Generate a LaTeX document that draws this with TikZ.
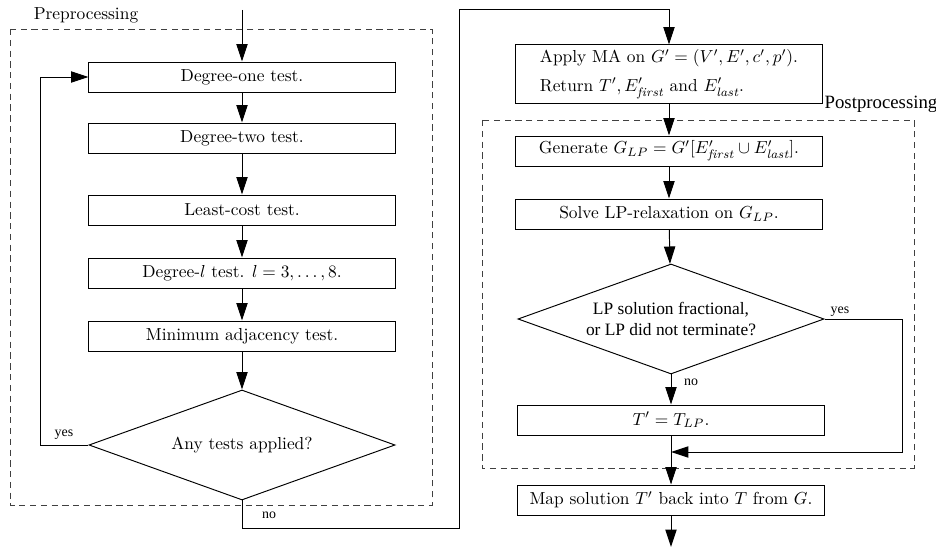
\documentclass[tikz,border=0pt]{standalone}
\usepackage{fontspec}
\newfontfamily\tms{Liberation Serif}
\usetikzlibrary{shapes.geometric,arrows.meta}
\begin{document}
\begin{tikzpicture}[x=0.575pt,y=-0.575pt,
  box/.style={draw, line width=0.55pt, minimum width=176pt, minimum height=17.25pt, inner sep=2pt},
  dec/.style={draw, diamond, aspect=2.8, line width=0.55pt, minimum width=176pt, minimum height=63.25pt, inner sep=0pt},
  arr/.style={-{Triangle[length=10pt,width=6.5pt]}, line width=0.55pt},
  grp/.style={draw=black!75, dash pattern=on 3.6pt off 2.6pt, line width=0.55pt},
  lbl/.style={font=\tms\fontsize{8}{9.5}\selectfont, inner sep=1pt}]
\useasboundingbox (0,0) rectangle (936,548);

% groups
\draw[grp] (10,29) rectangle (432,505);
\draw[grp] (482,120) rectangle (914,468);
\node (pre) at (86,15) {Preprocessing};
\node[font=\tms\fontsize{10.8}{12}\selectfont] (post) at (881,104) {Postprocessing};

% left column
\coordinate (start) at (242,10);
\node[box] (d1) at (242,77) {Degree-one test.};
\node[box] (d2) at (242,138) {Degree-two test.};
\node[box] (lc) at (242,210) {Least-cost test.};
\node[box] (dl) at (242,273) {Degree-$l$ test. $l=3,\ldots,8$.};
\node[box] (mat) at (242,336) {Minimum adjacency test.};
\node[dec] (any) at (242,445) {Any tests applied?};

\draw[arr] (start) -- (d1);
\draw[arr] (d1) -- (d2);
\draw[arr] (d2) -- (lc);
\draw[arr] (lc) -- (dl);
\draw[arr] (dl) -- (mat);
\draw[arr] (mat) -- (any);
\draw[arr] (any.west) -- ++(-48,0) |- (d1.west);
\node[lbl] (yes1) at (64,435) {yes};

% right column
\node[box, minimum height=33.4pt, align=left] (apply) at (669,74)
  {Apply MA on $G' = (V', E', c', p')$.\\[4.5pt] Return $T', E'_{\mathit{first}}$ and $E'_{\mathit{last}}$.};
\node[box] (gen) at (669,151) {Generate $G_{LP} = G'[E'_{\mathit{first}} \cup E'_{\mathit{last}}]$.};
\node[box] (solve) at (669,214) {Solve LP-relaxation on $G_{LP}$.};
\node[dec, font=\tms, align=center] (lp) at (671,319) {LP solution fractional,\\or LP did not terminate?};
\node[box] (tlp) at (671,420) {$T' = T_{LP}$.};
\node[box] (map) at (671,500) {Map solution $T'$ back into $T$ from $G$.};
\coordinate (join) at (671,452);
\coordinate (end) at (671,547);

\draw[arr] (any.south) -- (242,528) -- (459,528) -- (459,9) -| (apply.north);
\node[lbl] (no1) at (269,515) {no};

\draw[arr] (apply) -- (gen);
\draw[arr] (gen) -- (solve);
\draw[arr] (solve) -- (lp);
\draw[arr] (lp) -- (tlp);
\node[lbl] (no2) at (691,382) {no};
\draw[arr] (lp.east) -- (902,319) |- (join);
\node[lbl] (yes2) at (840,312) {yes};
\draw[arr] (tlp) -- (map);
\draw[arr] (map) -- (end);
\end{tikzpicture}
\end{document}
